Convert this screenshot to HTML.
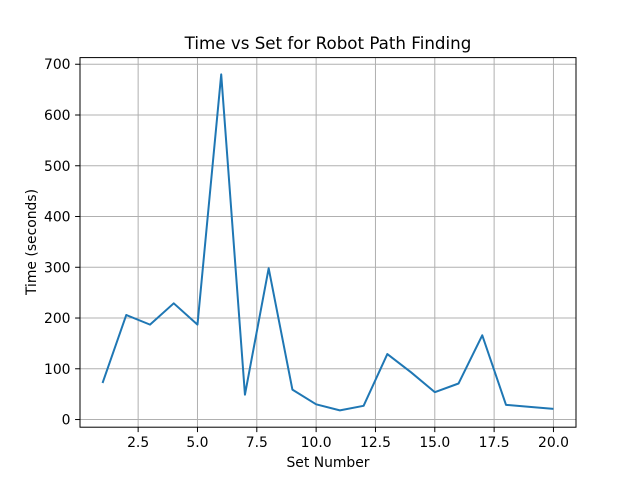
<!DOCTYPE html>
<html><head><meta charset="utf-8"><style>
body{margin:0;background:#fff;}
svg text{font-family:"DejaVu Sans","Liberation Sans",sans-serif;fill:#000;}
</style></head><body>
<svg id="chart" width="640" height="480" xmlns="http://www.w3.org/2000/svg">
<rect width="640" height="480" fill="#fff"/>
<g id="grid"></g>
<g id="ticks"></g>
<path id="line" fill="none" stroke="#1f77b4" stroke-width="2" stroke-linejoin="round"/>
<rect x="80" y="57.6" width="496" height="369.6" fill="none" stroke="#000" stroke-width="1"/>
<text x="328" y="49" text-anchor="middle" font-size="16.7">Time vs Set for Robot Path Finding</text>
<text x="328" y="467" text-anchor="middle" font-size="13.9">Set Number</text>
<text transform="translate(36,242) rotate(-90)" text-anchor="middle" font-size="13.9">Time (seconds)</text>
</svg>
<script>
const sets=[1,2,3,4,5,6,7,8,9,10,11,12,13,14,15,16,17,18,19,20];
const times=[72,206,187,229,187,680,49,298,59,30,18,27,129,93,54,71,166,29,25,21];
const xTicks=[2.5,5.0,7.5,10.0,12.5,15.0,17.5,20.0];
const yTicks=[0,100,200,300,400,500,600,700];
const L=80,R=576,T=57.6,B=427.2;
const xmin=Math.min(...sets),xmax=Math.max(...sets),xm=(xmax-xmin)*0.05;
const ymin=Math.min(...times),ymax=Math.max(...times),ym=(ymax-ymin)*0.05;
const x=v=>L+(v-(xmin-xm))/((xmax+xm)-(xmin-xm))*(R-L);
const y=v=>B-(v-(ymin-ym))/((ymax+ym)-(ymin-ym))*(B-T);
const ns="http://www.w3.org/2000/svg";
const grid=document.getElementById('grid'),ticks=document.getElementById('ticks');
function mk(t,a,p){const e=document.createElementNS(ns,t);for(const k in a)e.setAttribute(k,a[k]);p.appendChild(e);return e;}
xTicks.forEach(v=>{const px=x(v);
const g=mk('line',{x1:px,x2:px,y1:T,y2:B,stroke:'#b0b0b0','stroke-width':1},grid);


const t=mk('line',{x1:px,x2:px,y1:B,y2:B+4.9,stroke:'#000','stroke-width':1},ticks);


const l=mk('text',{x:px,y:B+20,'text-anchor':'middle','font-size':13.9},ticks);l.textContent=v.toFixed(1);

});
yTicks.forEach(v=>{const py=y(v);
const g=mk('line',{x1:L,x2:R,y1:py,y2:py,stroke:'#b0b0b0','stroke-width':1},grid);


const t=mk('line',{x1:L-4.9,x2:L,y1:py,y2:py,stroke:'#000','stroke-width':1},ticks);


const l=mk('text',{x:L-9.5,y:py+5,'text-anchor':'end','font-size':13.9},ticks);l.textContent=v;

});
document.getElementById('line').setAttribute('d',sets.map((s,i)=>(i?'L':'M')+x(s).toFixed(2)+','+y(times[i]).toFixed(2)).join(''));
</script>
</body></html>
